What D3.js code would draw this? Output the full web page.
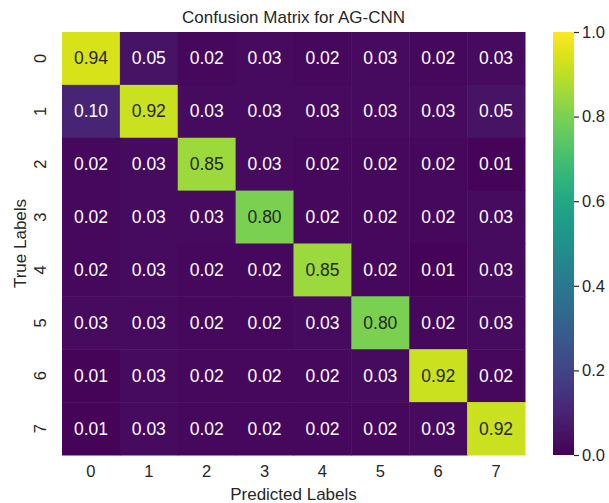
<!DOCTYPE html>
<html>
<head>
<meta charset="utf-8">
<script src="https://cdn.jsdelivr.net/npm/d3@7"></script>
<style>
  body { margin: 0; background: #fff; }
  svg { font-family: "Liberation Sans", Arial, sans-serif; }
</style>
</head>
<body>
<div id="chart"></div>
<script>
const labels = ["0", "1", "2", "3", "4", "5", "6", "7"];
const matrix = [
  [0.94, 0.05, 0.02, 0.03, 0.02, 0.03, 0.02, 0.03],
  [0.10, 0.92, 0.03, 0.03, 0.03, 0.03, 0.03, 0.05],
  [0.02, 0.03, 0.85, 0.03, 0.02, 0.02, 0.02, 0.01],
  [0.02, 0.03, 0.03, 0.80, 0.02, 0.02, 0.02, 0.03],
  [0.02, 0.03, 0.02, 0.02, 0.85, 0.02, 0.01, 0.03],
  [0.03, 0.03, 0.02, 0.02, 0.03, 0.80, 0.02, 0.03],
  [0.01, 0.03, 0.02, 0.02, 0.02, 0.03, 0.92, 0.02],
  [0.01, 0.03, 0.02, 0.02, 0.02, 0.02, 0.03, 0.92]
];
const colorTicks = [0, 0.2, 0.4, 0.6, 0.8, 1.0];

const width = 609, height = 503;
const margin = { top: 32, left: 62, right: 84, bottom: 48 };
const ink = "#262626";

const svg = d3.select("#chart").append("svg")
  .attr("width", width).attr("height", height);

const x = d3.scaleBand().domain(labels).range([margin.left, width - margin.right]);
const y = d3.scaleBand().domain(labels).range([margin.top, height - margin.bottom]);
const color = d3.scaleSequential(d3.interpolateViridis).domain([0, 1]);

const cells = matrix.flatMap((row, i) =>
  row.map((v, j) => ({ t: labels[i], p: labels[j], v })));

svg.append("g")
  .selectAll("rect")
  .data(cells)
  .join("rect")
  .attr("x", d => x(d.p))
  .attr("y", d => y(d.t))
  .attr("width", x.bandwidth() + 0.5)
  .attr("height", y.bandwidth() + 0.5)
  .attr("fill", d => color(d.v));

svg.append("g")
  .selectAll("text")
  .data(cells)
  .join("text")
  .attr("x", d => x(d.p) + x.bandwidth() / 2)
  .attr("y", d => y(d.t) + y.bandwidth() / 2)
  .attr("text-anchor", "middle")
  .attr("dominant-baseline", "central")
  .attr("font-size", 17.5)
  .attr("fill", d => d.v > 0.5 ? ink : "#fff")
  .text(d => d.v.toFixed(2));

// x axis
const gx = svg.append("g")
  .attr("transform", `translate(0,${height - margin.bottom})`)
  .call(d3.axisBottom(x).tickSize(0).tickPadding(10));
gx.select(".domain").remove();
gx.selectAll("text").attr("font-size", 16.5).attr("fill", ink)
  .attr("font-family", "Liberation Sans, Arial, sans-serif");

// y axis, labels turned like seaborn's
const gy = svg.append("g")
  .attr("transform", `translate(${margin.left},0)`)
  .call(d3.axisLeft(y).tickSize(0).tickPadding(0));
gy.select(".domain").remove();
gy.selectAll(".tick text")
  .attr("font-size", 16.5).attr("fill", ink)
  .attr("font-family", "Liberation Sans, Arial, sans-serif")
  .attr("x", 0).attr("dy", 0)
  .attr("text-anchor", "middle")
  .attr("transform", "translate(-22,0) rotate(-90)")
  .attr("dominant-baseline", "central");

const midX = (margin.left + width - margin.right) / 2;

svg.append("text")
  .attr("x", midX)
  .attr("y", 23)
  .attr("text-anchor", "middle")
  .attr("font-size", 17).attr("fill", ink)
  .text("Confusion Matrix for AG-CNN");

svg.append("text")
  .attr("x", midX)
  .attr("y", 500)
  .attr("text-anchor", "middle")
  .attr("font-size", 17).attr("fill", ink)
  .text("Predicted Labels");

svg.append("text")
  .attr("transform", `translate(26,${(margin.top + height - margin.bottom) / 2}) rotate(-90)`)
  .attr("text-anchor", "middle")
  .attr("font-size", 17).attr("fill", ink)
  .text("True Labels");

// colorbar
const cbX = 553, cbW = 21;
const cy = d3.scaleLinear().domain([0, 1]).range([height - margin.bottom, margin.top]);
const grad = svg.append("defs").append("linearGradient")
  .attr("id", "cbgrad").attr("x1", 0).attr("y1", 1).attr("x2", 0).attr("y2", 0);
grad.selectAll("stop")
  .data(d3.range(0, 1.0001, 0.05))
  .join("stop")
  .attr("offset", d => d)
  .attr("stop-color", d => color(d));
svg.append("rect")
  .attr("x", cbX).attr("y", cy(1))
  .attr("width", cbW).attr("height", cy(0) - cy(1))
  .attr("fill", "url(#cbgrad)");

const gc = svg.append("g")
  .attr("transform", `translate(${cbX + cbW},0)`)
  .call(d3.axisRight(cy).tickValues(colorTicks).tickFormat(d3.format(".1f")).tickSize(5).tickPadding(3));
gc.select(".domain").remove();
gc.selectAll("line").attr("stroke", ink).attr("stroke-width", 1.2);
gc.selectAll("text").attr("font-size", 16.5).attr("fill", ink)
  .attr("font-family", "Liberation Sans, Arial, sans-serif");
</script>
</body>
</html>
